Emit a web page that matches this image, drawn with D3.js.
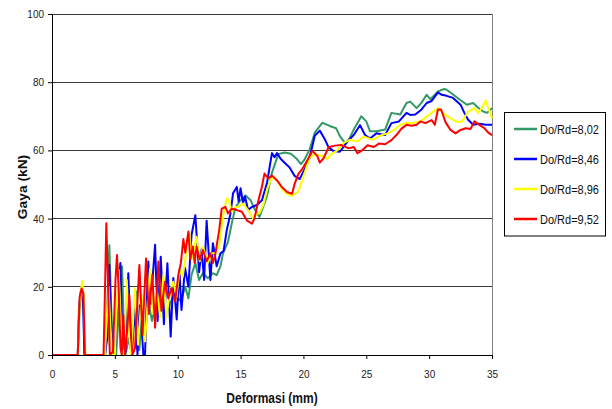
<!DOCTYPE html>
<html><head><meta charset="utf-8">
<script src="https://cdn.jsdelivr.net/npm/d3@7"></script>
<style>body{margin:0;background:#fff}svg{display:block;font-family:"Liberation Sans",Arial,sans-serif}</style>
</head><body><svg id="c" width="612" height="409"></svg>
<script>
const seriesNames = ["Do/Rd=8,02","Do/Rd=8,46","Do/Rd=8,96","Do/Rd=9,52"];
const seriesColors = ["#339966","#0000ff","#ffff00","#ff0000"];
const xTicks = [0,5,10,15,20,25,30,35];
const yTicks = [0,20,40,60,80,100];

const s802 = [[0,0],[2.05,0],[2.2,14],[2.35,19],[2.5,17],[2.6,0],[4.25,0],[4.4,15],[4.56,32.2],[4.7,15],[4.85,0],[5.1,0],[5.3,12],[5.57,26],[5.7,10],[5.85,0],[6.1,5],[6.3,1],[6.5,10],[6.73,18.6],[6.95,1.5],[7.15,13.5],[7.4,5],[7.65,16],[7.95,10],[8.2,15],[8.5,13],[8.8,17],[9.1,12.5],[9.4,15],[9.7,18],[10.1,16],[10.4,17.5],[10.6,20],[10.85,16.6],[11.1,23.5],[11.4,27],[11.7,22],[12.0,24],[12.4,22.5],[12.8,24],[13.1,23.4],[13.4,26],[13.6,29.8],[14.0,33.2],[14.3,38.6],[14.6,43.4],[15.0,45.4],[15.4,46.8],[15.8,45.4],[16.1,42.9],[16.5,40.5],[16.8,43.5],[17.1,46.6],[17.5,53.5],[18.0,58.9],[18.5,59.4],[19.0,59],[19.5,57.4],[19.8,56],[20.1,57.4],[20.5,60.3],[20.9,65.2],[21.5,68.1],[21.9,67.5],[22.2,67],[22.6,66.5],[22.9,64.2],[23.3,62.2],[23.6,63],[24.0,66.1],[24.3,68],[24.6,70],[25.0,68.5],[25.3,65.6],[25.8,65.6],[26.5,66.1],[27.0,71],[27.7,70.5],[28.2,73.9],[28.5,74.3],[29.0,72.4],[29.4,74],[29.8,76.3],[30.1,75],[30.7,77.3],[31.2,78],[31.4,77.8],[31.9,76.4],[32.4,75],[33.0,73.4],[33.5,73.9],[33.9,72.5],[34.3,71.4],[34.6,71],[35,72.4]];

const s846 = [[0,0],[2.05,0],[2.15,14],[2.3,18.8],[2.45,18],[2.58,0],[4.2,0],[4.4,5],[4.56,26.4],[4.7,10],[4.85,0],[5.0,0],[5.2,15],[5.44,27],[5.6,5],[5.7,2],[5.85,1],[6.07,24],[6.2,10],[6.34,0],[6.6,13.7],[6.8,0],[7.0,14.6],[7.27,0],[7.4,0],[7.48,10],[7.66,27.4],[7.85,15],[8.2,32.3],[8.4,10],[8.65,28.8],[8.9,9],[9.18,26.9],[9.44,5.4],[9.65,22.6],[9.92,10.4],[10.13,25],[10.3,13.2],[10.58,25.5],[10.85,20],[11.1,35.2],[11.4,41],[11.7,24.3],[11.9,31],[12.1,22],[12.3,39.4],[12.6,22],[12.8,32.8],[13.1,26],[13.4,29.8],[13.65,30.5],[13.9,36.6],[14.2,41.5],[14.4,47.4],[14.7,49.3],[14.85,45],[15.0,48.9],[15.2,44.5],[15.35,46.5],[15.6,42.5],[15.9,43.4],[16.3,44],[16.7,45.4],[17.1,50.4],[17.35,56],[17.5,59.2],[17.7,58],[17.9,59.2],[18.2,57.5],[18.5,56.4],[18.9,55],[19.3,52.5],[19.7,51.6],[20.1,54.5],[20.5,57.9],[20.9,64.3],[21.3,65.8],[21.7,63.3],[22.0,60.9],[22.4,59.8],[22.9,59.6],[23.5,62.6],[24.0,64.5],[24.5,67.4],[24.9,64.5],[25.3,63.5],[25.8,65],[26.5,64.5],[27.0,68],[27.6,68.5],[28.2,71],[28.5,70.4],[28.9,70.5],[29.4,72],[29.8,73.9],[30.2,74.5],[30.7,77],[31.0,76.3],[31.4,76],[31.9,75.4],[32.5,73.4],[32.8,71],[33.1,69],[33.5,67.5],[34.0,67.8],[34.5,67.5],[35,67.5]];

const s896 = [[0,0],[2.05,0],[2.2,15],[2.4,21.7],[2.55,16],[2.65,0],[4.2,0],[4.35,10],[4.5,20],[4.65,8],[4.8,0],[5.0,0],[5.1,10],[5.3,25],[5.45,12],[5.6,0],[5.75,0],[5.95,22],[6.1,8],[6.3,0],[6.6,19.6],[6.85,3],[7.13,17.6],[7.4,4],[7.8,25.4],[8.05,12],[8.33,19.6],[8.6,11],[8.86,23.5],[9.1,11],[9.39,18.6],[9.65,21.5],[9.9,17],[10.15,25],[10.4,23],[10.72,31.3],[10.93,35.7],[11.1,28],[11.5,34.7],[11.75,27.5],[12.0,31.8],[12.4,27],[12.7,29.8],[13.0,30],[13.3,32],[13.6,40.6],[13.9,46],[14.1,45],[14.3,42],[14.55,43.4],[14.8,43.4],[15.2,44.4],[15.6,42.5],[16.0,40],[16.3,41.5],[16.5,41.6],[16.8,44],[17.1,48.4],[17.4,51.5],[17.7,52.1],[18.0,50.6],[18.3,48.7],[18.7,47.2],[19.1,46.7],[19.5,47.6],[19.7,49],[20.1,53.5],[20.5,57.9],[20.9,58.9],[21.5,58.4],[21.9,57.5],[22.2,58.9],[22.7,60],[23.2,62.2],[23.7,63.1],[24.3,62.6],[24.8,64.1],[25.5,63.1],[26.2,64.5],[26.7,65],[27.2,66],[27.7,67.5],[28.2,68],[28.7,68],[29.3,68.5],[29.8,69.9],[30.2,71],[30.7,72.4],[31.1,71],[31.7,69.4],[32.2,68.4],[32.6,68.4],[33.1,71.4],[33.6,72.4],[33.9,71],[34.2,72.5],[34.5,74.6],[34.75,72],[35,69.4]];

const s952 = [[0,0],[2.05,0],[2.2,17],[2.35,19.5],[2.5,18],[2.62,0],[4.1,0],[4.22,20],[4.32,38.6],[4.45,22],[4.6,0],[4.85,1],[5.05,22],[5.17,29.3],[5.3,20],[5.45,2],[5.55,0],[5.67,11.7],[5.8,0],[6.0,8],[6.15,17.6],[6.3,5],[6.4,0],[6.6,2],[6.95,26.4],[7.2,5.9],[7.48,28.3],[7.7,12],[7.98,23.5],[8.2,8],[8.46,27.4],[8.7,13],[8.99,21.5],[9.25,16.6],[9.5,19.6],[9.79,15.6],[10.05,23.5],[10.25,27],[10.45,34],[10.6,30],[10.85,36.2],[11.0,28],[11.2,31.8],[11.35,27],[11.5,31.8],[11.75,28],[12.0,30.8],[12.3,27.5],[12.6,29.8],[12.8,27],[13.0,29.8],[13.3,36.6],[13.5,42.9],[13.8,43.4],[14.0,41.5],[14.3,42.9],[14.7,42.5],[15.1,42],[15.5,39.5],[15.9,38.5],[16.1,40],[16.4,45],[16.7,49.4],[16.9,53.2],[17.2,51.8],[17.5,52.6],[17.9,51.2],[18.3,49.2],[18.7,47.8],[19.1,47.3],[19.3,50.2],[19.6,53.1],[19.9,54.5],[20.3,57],[20.7,59.9],[21.1,58.4],[21.3,56.4],[21.6,57.7],[22.0,60.9],[22.5,61.4],[23.0,61.6],[23.6,60.6],[24.0,61],[24.3,59.2],[24.7,60.1],[25.1,61.5],[25.6,61],[26.0,62],[26.5,61.8],[27.0,63],[27.4,64.5],[27.8,66.4],[28.2,67.5],[28.6,67.2],[29.0,67.5],[29.3,68.5],[29.7,68],[30.2,68.9],[30.45,67.5],[30.7,72],[30.95,72],[31.3,68.3],[31.7,66],[32.1,65],[32.5,66],[32.9,66.5],[33.3,66.3],[33.6,68.5],[34.0,67.5],[34.4,66.5],[34.7,65.2],[35,64.5]];

const seriesData = [s802, s846, s896, s952];

const svg = d3.select("#c");
const x = d3.scaleLinear().domain([0,35]).range([52,492]);
const y = d3.scaleLinear().domain([0,100]).range([355,14]);
const SY = 1.15;

// gridlines
svg.append("g").selectAll("line").data(yTicks.filter(v=>v>0)).join("line")
  .attr("x1",x(0)).attr("x2",x(35)).attr("y1",d=>y(d)).attr("y2",d=>y(d))
  .attr("stroke","#3a3a3a").attr("stroke-width",1).attr("shape-rendering","crispEdges");
// right border
svg.append("line").attr("x1",x(35)).attr("x2",x(35)).attr("y1",y(100)).attr("y2",y(0))
  .attr("stroke","#808080").attr("shape-rendering","crispEdges");

// series
const line = d3.line().x(d=>x(d[0])).y(d=>y(d[1]));
svg.append("g").selectAll("path").data(seriesData).join("path")
  .attr("d",line).attr("fill","none").attr("stroke",(d,i)=>seriesColors[i])
  .attr("stroke-width",2).attr("stroke-linejoin","round");

// axes
const xa = svg.append("g").attr("transform",`translate(0,${y(0)})`)
  .call(d3.axisBottom(x).tickValues(xTicks).tickSize(4).tickSizeOuter(0).tickPadding(6));
const ya = svg.append("g").attr("transform",`translate(${x(0)},0)`)
  .call(d3.axisLeft(y).tickValues(yTicks).tickSize(4).tickSizeOuter(0).tickPadding(4));
[xa,ya].forEach(a=>{
  a.select(".domain").attr("stroke","#000");
  a.selectAll(".tick line").attr("stroke","#000");
  a.selectAll("text").attr("font-size","10px").attr("fill","#222").attr("font-family",'"Liberation Sans",Arial,sans-serif');
});
xa.selectAll(".tick text").attr("y",0).attr("dy",0).attr("transform",`translate(0,22.5) scale(1,${SY})`);
ya.selectAll(".tick text").attr("dy",0).attr("transform",`translate(0,3.5) scale(1,${SY})`);

// titles
svg.append("text").attr("transform",`translate(${(x(0)+x(35))/2},403) scale(1,${SY})`)
  .attr("text-anchor","middle").attr("font-size","12px").attr("font-weight","bold").attr("fill","#111")
  .text("Deformasi (mm)");
svg.append("text").attr("transform",`translate(27,187) scale(1,${SY}) rotate(-90)`)
  .attr("text-anchor","middle").attr("font-size","12px").attr("font-weight","bold").attr("fill","#111")
  .text("Gaya (kN)");

// legend
const lg = svg.append("g");
lg.append("rect").attr("x",504.5).attr("y",112.5).attr("width",101).attr("height",123.5)
  .attr("fill","#fff").attr("stroke","#000").attr("stroke-width",1);
const items = lg.selectAll("g.it").data(seriesNames).join("g").attr("class","it")
  .attr("transform",(d,i)=>`translate(0,${129+i*30})`);
items.append("line").attr("x1",514).attr("x2",537).attr("y1",0).attr("y2",0)
  .attr("stroke",(d,i)=>seriesColors[i]).attr("stroke-width",2.5);
items.append("text").attr("transform",`translate(540,4.5) scale(1,${SY})`)
  .attr("font-size","11px").attr("fill","#111").text(d=>d);
</script></body></html>
